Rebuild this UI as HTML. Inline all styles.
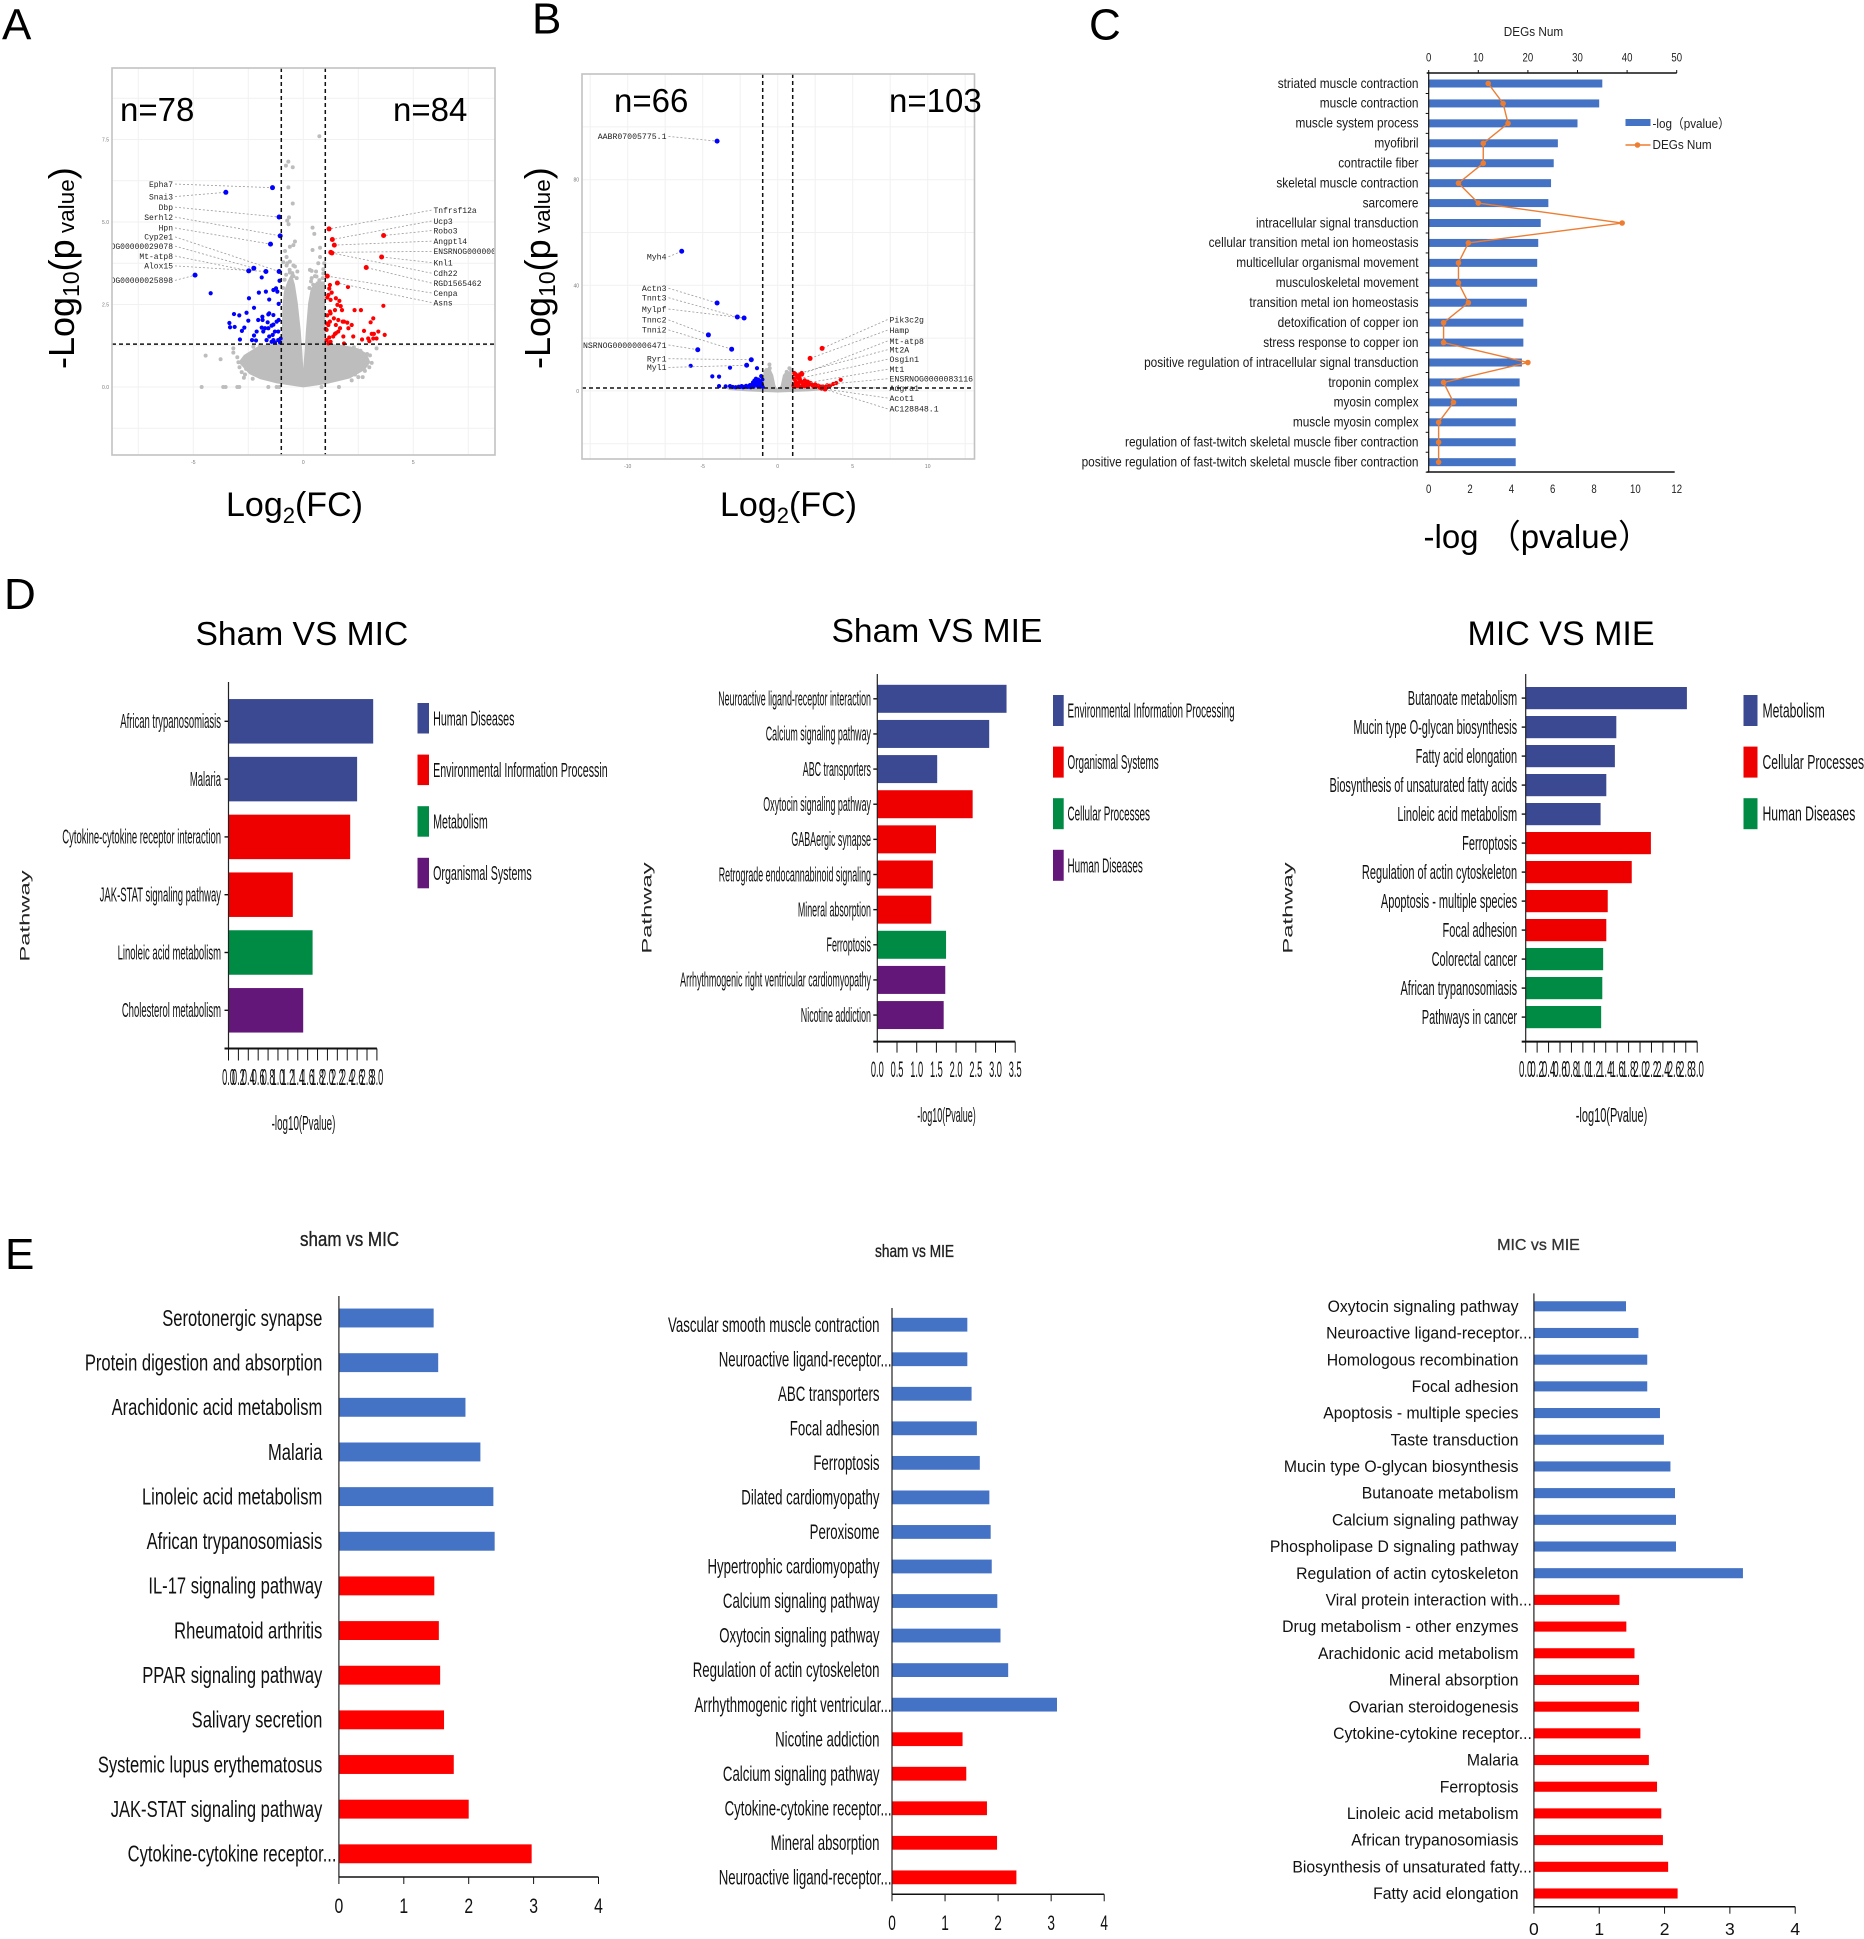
<!DOCTYPE html>
<html lang="en">
<head>
<meta charset="utf-8">
<title>Differential expression figure</title>
<style>
html,body{margin:0;padding:0;background:#fff;}
svg{display:block;font-family:"Liberation Sans","Noto Sans CJK SC",sans-serif;}
</style>
</head>
<body>
<svg id="fig" xmlns="http://www.w3.org/2000/svg" width="1864" height="1939" viewBox="0 0 1864 1939">
<defs>
<clipPath id="clip-a"><rect x="112" y="68" width="383" height="387"/></clipPath>
<clipPath id="clip-b"><rect x="582" y="74" width="393" height="385"/></clipPath>
<clipPath id="clip-d2-legend"><rect x="1060" y="680" width="176" height="220"/></clipPath>
</defs>
<rect x="0" y="0" width="1864" height="1939" fill="#fff"/>

<text x="2" y="39.5" font-size="44">A</text>
<text x="532" y="33.5" font-size="44">B</text>
<text x="1089" y="39.5" font-size="44">C</text>
<text x="4" y="609" font-size="44">D</text>
<text x="5" y="1269" font-size="44">E</text>

<g id="panel-a"></g>
<g id="panel-b"></g>

<text x="120" y="121" font-size="33">n=78</text>
<text x="393" y="121" font-size="33">n=84</text>
<text x="614" y="112" font-size="33">n=66</text>
<text x="889" y="112" font-size="33">n=103</text>

<text transform="translate(74,369) rotate(-90)" font-size="36">-Log<tspan font-size="23" dy="5">10</tspan><tspan dy="-5">(p</tspan><tspan font-size="22.5"> value</tspan>)</text>
<text transform="translate(550,369) rotate(-90)" font-size="36">-Log<tspan font-size="23" dy="5">10</tspan><tspan dy="-5">(p</tspan><tspan font-size="22.5"> value</tspan>)</text>
<text x="226" y="516" font-size="34">Log<tspan font-size="22" dy="7">2</tspan><tspan dy="-7">(FC)</tspan></text>
<text x="720" y="516" font-size="34">Log<tspan font-size="22" dy="7">2</tspan><tspan dy="-7">(FC)</tspan></text>

<g transform="translate(-1.5,-1)">
<g id="panel-c"></g>
<text transform="translate(1535,37) scale(0.94,1)" font-size="12.5" text-anchor="middle" fill="#222">DEGs Num</text>
<text transform="translate(1425,549) scale(1,1)" font-size="33">-log （pvalue）</text>
<rect x="1627" y="120" width="25" height="7" fill="#4472c4"/>
<text transform="translate(1654,129) scale(0.9,1)" font-size="13" fill="#222">-log（pvalue）</text>
<line x1="1627" y1="146" x2="1652" y2="146" stroke="#ed7d31" stroke-width="1.6"/>
<circle cx="1639" cy="146" r="2.8" fill="#ed7d31"/>
<text transform="translate(1654,150) scale(0.9,1)" font-size="13" fill="#222">DEGs Num</text>

<text x="197" y="646" font-size="33.6">Sham VS MIC</text>
<text x="833" y="643" font-size="33.6">Sham VS MIE</text>
<text x="1469" y="646" font-size="34">MIC VS MIE</text>
<g id="panel-d1"></g>
<g id="panel-d2"></g>
<g id="panel-d3"></g>
<text transform="translate(31,917) rotate(-90) scale(1.7,1)" font-size="14" text-anchor="middle" fill="#222">Pathway</text>
<text transform="translate(653,909) rotate(-90) scale(1.7,1)" font-size="14" text-anchor="middle" fill="#222">Pathway</text>
<text transform="translate(1294,909) rotate(-90) scale(1.7,1)" font-size="14" text-anchor="middle" fill="#222">Pathway</text>
<text transform="translate(305,1131) scale(0.49,1)" font-size="20" text-anchor="middle" fill="#111">-log10(Pvalue)</text>
<text transform="translate(948,1123) scale(0.45,1)" font-size="20" text-anchor="middle" fill="#111">-log10(Pvalue)</text>
<text transform="translate(1613,1123) scale(0.55,1)" font-size="20" text-anchor="middle" fill="#111">-log10(Pvalue)</text>

<text transform="translate(351,1247) scale(0.85,1)" font-size="20" text-anchor="middle" fill="#222" stroke="#222" stroke-width="0.35">sham vs MIC</text>
<text transform="translate(916,1258) scale(0.76,1)" font-size="18" text-anchor="middle" fill="#222" stroke="#222" stroke-width="0.35">sham vs MIE</text>
<text x="1540" y="1251" font-size="16" text-anchor="middle" fill="#333" stroke="#333" stroke-width="0.3">MIC vs MIE</text>
<g id="panel-e1"></g>
<g id="panel-e2"></g>
<g id="panel-e3"></g>
</g>
</svg>

<script>
/* ---------- Panel A data ---------- */
const aGridX=[-7.5,-5,-2.5,0,2.5,5,7.5];
const aGridY=[-1.25,0,1.25,2.5,3.75,5,6.25,7.5,8.75];
const aTickX=[-5,0,5];
const aTickY=[0,2.5,5,7.5];
const aTickYLabels=['0.0','2.5','5.0','7.5'];
const aOutlineX=[0,-1.21,-1.97,-2.45,-2.95,-2.7,-1.97,-1,-.97,-.95,-.88,-.72,-.53,-.38,-.25,-.12,-.05,0,.06,.12,.22,.34,.61,.98,1.02,1.82,2.5,2.88,3.05,2.8,2.12,1.06];
const aOutlineY=[-.01,.11,.24,.39,.75,.97,1.27,1.32,1.83,2.43,2.9,3.2,3.45,3.1,2.54,1.73,1.12,.57,1.12,1.73,2.54,2.98,3.2,3.2,1.32,1.27,1.17,1.02,.75,.52,.26,.09];
const aGrayX=[.73,-.68,-.79,-.48,-.68,-.48,-.65,-.73,-.67,.42,.5,-.38,-.45,-.61,-.83,.42,.76,-.76,-.45,-.91,-.61,.38,.53,.76,.91,-.45,-.76,-4.62,-3.64,-3.53,-3,-2.91,-1.59,-1.21,-1.09,1.62,.83,-4.44,-3.76,-3.18,-3.18,3.33,3.03,3.11,2.8,2.35,2.12,-2.95,-2.65,-1.97,-2.27,-.61,-.73,-.38,-.27,.3,.58,.68,.38,.73,.91,.95,-3,-2.9,-2.8,-2.6,-2.4,-2.2,-1.8,-1.5,2.9,2.6,2.3,1.6,2.7,2.5,3,-.92,-.85,-.78,-.62,-.5,-.3,.28,.35,.45,.6,.88,.8,-2.7,-2.3,2.2,1.4];
const aGrayY=[7.6,6.83,6.71,6.66,6.05,5.56,5.14,5.04,4.93,4.83,4.64,4.41,4.3,4.25,4.12,4.15,4.22,3.94,3.68,3.78,3.47,3.52,3.36,3.94,3.57,3.36,3.68,0,0,0,0,0,0,0,0,0,0,.95,.84,1.17,1.04,1.17,.96,.73,.49,.38,1.17,.75,.38,1.27,1.22,3.8,3.75,3.65,3.5,3.55,3.5,3.75,3.3,3.24,3.44,3.75,.9,.6,.45,.55,.9,1.05,1.12,1.2,1,1.1,1.2,1.25,.3,.3,.6,3,3.25,3.4,3.55,3.45,3.3,3,3.2,3.1,3.35,3.3,3.1,.28,.25,.2,.22];
const aBlueX=[-4.21,-1.89,-1.08,-2.47,-2.24,-2.58,-2.02,-1.7,-1.36,-1.24,-1.18,-1.55,-1.12,-3.15,-2.91,-3.36,-3.33,-3.12,-2.68,-2.79,-2.88,-2.5,-2.24,-2.15,-2.33,-2.12,-1.86,-1.55,-1.59,-1.36,-1.12,-2.05,-1.85,-1.89,-1.74,-1.59,-1.44,-1.36,-1.62,-1.21,-1.29,-1.39,-1.14,-1.55,-1.67,-1.36,-1.14,-1.03,-1.44,-1.29,-1.06,-1.82];
const aBlueY=[2.84,3.32,3.22,2.69,2.4,2.25,2.86,2.89,2.94,2.99,2.89,2.65,2.52,2.21,2.17,1.94,1.81,1.82,1.8,1.7,1.44,2.01,1.56,1.41,1.42,1.68,2.13,2.23,2.2,2.18,2.03,2.03,2.03,1.8,1.78,1.78,1.86,1.89,1.96,1.98,1.68,1.58,1.68,1.53,1.42,1.42,1.42,1.47,1.37,1.35,1.35,1.68];
const aRedX=[2.03,1.21,1.18,1.14,1.29,1.09,1.48,1.24,1.64,1.55,1.7,1.76,1.44,1.21,1.09,1.24,1.39,1.59,1.79,1.85,1.21,1.06,1.14,1.48,1.67,2.05,2.2,2,2.33,2.62,3.64,3.18,3.06,2.76,3.11,3.41,3.7,3.21,3.33,3.18,2.95,3,2.67,2.27,1.82,1.59,1.44,1.36,1.18,1.06,1.06,1.24,1.48,1.85,1.14,1.02];
const aRedY=[3.03,3.09,2.98,2.79,2.86,2.71,2.69,2.64,2.61,2.49,2.45,2.33,2.33,2.29,2.17,2.23,2.08,2.03,1.98,1.98,1.98,1.93,1.88,1.88,1.78,1.78,1.88,1.95,2.33,2.33,2.46,2.08,1.96,1.7,1.61,1.68,1.58,1.61,1.47,1.47,1.47,1.39,1.44,1.53,1.53,1.68,1.61,1.53,1.5,1.73,1.42,1.37,1.63,1.32,1.32,1.76];
const aLeftGenes=['Epha7','Snai3','Dbp','Serhl2','Hpn','Cyp2e1','ENSRNOG00000029078','Mt-atp8','Alox15','ENSRNOG00000025898'];
const aLeftX=[-1.4,-3.52,-1.1,-1.05,-1.49,-1.1,-2.25,-2.48,-1.7,-4.92];
const aLeftY=[6.04,5.9,5.15,4.58,4.33,3.5,3.6,3.52,3.5,3.39];
const aLeftLabelY=[6.15,5.77,5.45,5.15,4.82,4.55,4.27,3.97,3.67,3.23];
const aRightGenes=['Tnfrsf12a','Ucp3','Robo3','Angptl4','ENSRNOG00000065432','Knl1','Cdh22','RGD1565462','Cenpa','Asns'];
const aRightX=[1.17,1.32,3.65,1.41,1.25,3.56,1.3,2.86,1.09,1.55];
const aRightY=[4.79,4.47,4.59,4.3,4.08,3.94,4.06,3.62,3.36,3.15];
const aRightLabelY=[5.36,5.03,4.74,4.42,4.11,3.77,3.45,3.15,2.85,2.56];

/* ---------- Panel B data ---------- */
const bGridX=[-12.5,-10,-7.5,-5,-2.5,0,2.5,5,7.5,10,12.5];
const bGridY=[-20,0,20,40,60,80,100];
const bTickX=[-10,-5,0,5,10];
const bTickY=[0,40,80];
const bTickYLabels=['0','40','80'];
const bOutlineX=[-3.5,-1,-.95,-.8,-.5,-.3,-.15,-.05,.05,.2,.35,.5,.7,.95,1,3.5,3.2,2,0,-2,-3.2];
const bOutlineY=[1.1,1.3,7.5,8.7,8.5,6,2,1,1,2,6,7,7.5,7,1.3,1.2,.3,-.2,-.6,-.2,.3];
const bGrayX=[-.53,-.53,-.55,.78,.6,.9];
const bGrayY=[8.6,6.7,10,8.6,7.2,7.8];
const bBlueX=[-3.18,-5.8,-1.38,-4.36,-3.91,-3.91,-3.47,-3.18,-3,-2.8,-2.6,-2.5,-2.4,-2.3,-2.2,-2.1,-2,-1.9,-1.85,-1.8,-1.75,-1.7,-1.65,-1.6,-1.55,-1.5,-1.45,-1.4,-1.35,-1.3,-1.25,-1.2,-1.15,-1.1,-1.05,-1.02,-1];
const bBlueY=[8.8,9.5,8.6,5.5,5.4,1.8,1.7,1.8,1.5,1.4,1.6,1.5,1.8,1.4,1.6,1.9,1.5,1.7,2.2,1.4,1.8,2.4,3.2,1.6,3.9,2.6,4.6,3.6,2,4.3,3,1.7,3.6,5.6,2.4,4.3,1.5];
const bRedX=[1.1,1.25,1.45,1.6,1.1,1.2,1.3,1.4,1.5,1.6,1.7,1.8,1.9,2,2.1,2.2,2.3,2.5,2.6,2.7,2.85,3,3.2,3.5,3.7,3.9,4.2,1.05,1.15,1.25,1.4,1.6,1.8,2,2.4,3.3];
const bRedY=[6.8,6,6.2,6.8,4.5,3.5,5,3,4,3.4,2.5,4,3,3.5,2.4,3,2.2,2.5,1.8,2,1.6,1.7,1.5,2,2.6,3,4.2,2,2.5,1.8,1.8,1.7,1.8,1.6,1.5,2.1];
const bLeftGenes=['AABR07005775.1','Myh4','Actn3','Tnnt3','Mylpf','Tnnc2','Tnni2','ENSRNOG00000006471','Ryr1','Myl1'];
const bLeftX=[-4.04,-6.4,-4.04,-2.69,-2.24,-4.62,-3.07,-5.33,-1.76,-2.07];
const bLeftY=[94.6,52.9,33.3,28,27.6,21.2,15.8,15.6,11.8,9.7];
const bLeftLabelY=[96.4,50.8,38.9,35.3,31,26.9,23.1,17.4,12.2,8.9];
const bRightGenes=['Pik3c2g','Hamp','Mt-atp8','Mt2A','Osgin1','Mt1','ENSRNOG0000083116','Adgra1','Acot1','AC128848.1'];
const bRightX=[2.96,2.16,1.6,1.16,1.44,1.93,2.38,2.82,3.16,2.93];
const bRightY=[16.1,12.3,6.3,6.3,4.7,3,2,1.4,.7,1];
const bRightLabelY=[27,23,18.9,15.6,12,8.2,4.6,1.1,-2.7,-6.8];

/* ---------- Panel C data ---------- */
const cTerms=['striated muscle contraction','muscle contraction','muscle system process','myofibril','contractile fiber','skeletal muscle contraction','sarcomere','intracellular signal transduction','cellular transition metal ion homeostasis','multicellular organismal movement','musculoskeletal movement','transition metal ion homeostasis','detoxification of copper ion','stress response to copper ion','positive regulation of intracellular signal transduction','troponin complex','myosin complex','muscle myosin complex','regulation of fast-twitch skeletal muscle fiber contraction','positive regulation of fast-twitch skeletal muscle fiber contraction'];
const cPvalue=[8.4,8.25,7.2,6.25,6.05,5.92,5.79,5.42,5.3,5.25,5.25,4.75,4.58,4.58,4.51,4.4,4.27,4.21,4.21,4.21];
const cDegs=[12,15,16,11,11,6,10,39,8,6,6,8,3,3,20,3,5,2,2,2];
const cTicksBottom=[0,2,4,6,8,10,12];
const cTicksTop=[0,10,20,30,40,50];

/* ---------- Panel D data ---------- */
const aaasColors=['#3B4992','#EE0000','#008B45','#631879'];
const d1Cats=['African trypanosomiasis','Malaria','Cytokine-cytokine receptor interaction','JAK-STAT signaling pathway','Linoleic acid metabolism','Cholesterol metabolism'];
const d1Vals=[2.925,2.6,2.46,1.3,1.7,1.51];
const d1Groups=[0,0,1,1,2,3];
const d1Legend=['Human Diseases','Environmental Information Processin','Metabolism','Organismal Systems'];
const d2Cats=['Neuroactive ligand-receptor interaction','Calcium signaling pathway','ABC transporters','Oxytocin signaling pathway','GABAergic synapse','Retrograde endocannabinoid signaling','Mineral absorption','Ferroptosis','Arrhythmogenic right ventricular cardiomyopathy','Nicotine addiction'];
const d2Vals=[3.28,2.84,1.52,2.42,1.49,1.41,1.37,1.745,1.725,1.685];
const d2Groups=[0,0,0,1,1,1,1,2,3,3];
const d2Legend=['Environmental Information Processing','Organismal Systems','Cellular Processes','Human Diseases'];
const d3Cats=['Butanoate metabolism','Mucin type O-glycan biosynthesis','Fatty acid elongation','Biosynthesis of unsaturated fatty acids','Linoleic acid metabolism','Ferroptosis','Regulation of actin cytoskeleton','Apoptosis - multiple species','Focal adhesion','Colorectal cancer','African trypanosomiasis','Pathways in cancer'];
const d3Vals=[2.82,1.585,1.56,1.41,1.31,2.19,1.855,1.435,1.41,1.355,1.34,1.32];
const d3Groups=[0,0,0,0,0,1,1,1,1,2,2,2];
const d3Legend=['Metabolism','Cellular Processes','Human Diseases'];
const dFineTicks=[0,.2,.4,.6,.8,1,1.2,1.4,1.6,1.8,2,2.2,2.4,2.6,2.8,3];
const dFineTickLabels=['0.0','0.2','0.4','0.6','0.8','1.0','1.2','1.4','1.6','1.8','2.0','2.2','2.4','2.6','2.8','3.0'];
const d2Ticks=[0,.5,1,1.5,2,2.5,3,3.5];
const d2TickLabels=['0.0','0.5','1.0','1.5','2.0','2.5','3.0','3.5'];

/* ---------- Panel E data ---------- */
const eColors=['#4472c4','#ff0000'];
const eTicks=[0,1,2,3,4];
const eTickLabels=['0','1','2','3','4'];
const e1Cats=['Serotonergic synapse','Protein digestion and absorption','Arachidonic acid metabolism','Malaria','Linoleic acid metabolism','African trypanosomiasis','IL-17 signaling pathway','Rheumatoid arthritis','PPAR signaling pathway','Salivary secretion','Systemic lupus erythematosus','JAK-STAT signaling pathway','Cytokine-cytokine receptor...'];
const e1Vals=[1.46,1.53,1.95,2.18,2.38,2.4,1.47,1.54,1.56,1.62,1.77,2,2.97];
const e1Groups=[0,0,0,0,0,0,1,1,1,1,1,1,1];
const e2Cats=['Vascular smooth muscle contraction','Neuroactive ligand-receptor...','ABC transporters','Focal adhesion','Ferroptosis','Dilated cardiomyopathy','Peroxisome','Hypertrophic cardiomyopathy','Calcium signaling pathway','Oxytocin signaling pathway','Regulation of actin cytoskeleton','Arrhythmogenic right ventricular...','Nicotine addiction','Calcium signaling pathway','Cytokine-cytokine receptor...','Mineral absorption','Neuroactive ligand-receptor...'];
const e2Vals=[1.42,1.42,1.5,1.6,1.655,1.835,1.86,1.88,1.985,2.045,2.19,3.11,1.33,1.4,1.79,1.98,2.345];
const e2Groups=[0,0,0,0,0,0,0,0,0,0,0,0,1,1,1,1,1];
const e3Cats=['Oxytocin signaling pathway','Neuroactive ligand-receptor...','Homologous recombination','Focal adhesion','Apoptosis - multiple species','Taste transduction','Mucin type O-glycan biosynthesis','Butanoate metabolism','Calcium signaling pathway','Phospholipase D signaling pathway','Regulation of actin cytoskeleton','Viral protein interaction with...','Drug metabolism - other enzymes','Arachidonic acid metabolism','Mineral absorption','Ovarian steroidogenesis','Cytokine-cytokine receptor...','Malaria','Ferroptosis','Linoleic acid metabolism','African trypanosomiasis','Biosynthesis of unsaturated fatty...','Fatty acid elongation'];
const e3Vals=[1.41,1.6,1.735,1.735,1.93,1.99,2.09,2.16,2.175,2.175,3.2,1.31,1.415,1.54,1.61,1.61,1.63,1.76,1.885,1.95,1.975,2.055,2.2];
const e3Groups=[0,0,0,0,0,0,0,0,0,0,0,1,1,1,1,1,1,1,1,1,1,1,1];

/* ---------- Helpers ---------- */
const NS='http://www.w3.org/2000/svg';
function mk(parent,tag,attrs){
  const el=document.createElementNS(NS,tag);
  for(const k in attrs){el.setAttribute(k,attrs[k]);}
  parent.appendChild(el);
  return el;
}
function label(parent,str,x,y,size,anchor,sx,fill,family){
  const el=mk(parent,'text',{transform:'translate('+x+','+y+') scale('+sx+',1)','font-size':size,'text-anchor':anchor,fill:fill});
  if(family){el.setAttribute('font-family',family);}
  el.textContent=str;
  return el;
}

/* ---------- Volcano ---------- */
function drawVolcano(g,c){
  const X=v=>c.cx+v*c.kx;
  const Y=v=>c.cy-v*c.ky;
  const b=c.box;
  c.gridX.forEach(v=>{
    const el=mk(g,'line',{x1:X(v),x2:X(v),y1:b[1],y2:b[3],stroke:'#f1f1f1','stroke-width':1});
    
    
  });
  c.gridY.forEach(v=>{
    const el=mk(g,'line',{x1:b[0],x2:b[2],y1:Y(v),y2:Y(v),stroke:'#f1f1f1','stroke-width':1});
    
    
  });
  const cloud=mk(g,'polygon',{points:c.outX.map((v,i)=>X(v)+','+Y(c.outY[i])).join(' '),fill:'#bdbdbd'});
  
  
  c.grayX.forEach((v,i)=>{
    const el=mk(g,'circle',{cx:X(v),cy:Y(c.grayY[i]),r:2,fill:'#bdbdbd'});
    
    
  });
  c.blueX.forEach((v,i)=>{
    const el=mk(g,'circle',{cx:X(v),cy:Y(c.blueY[i]),r:2.1,fill:'#0000ff'});
    
    
  });
  c.redX.forEach((v,i)=>{
    const el=mk(g,'circle',{cx:X(v),cy:Y(c.redY[i]),r:2.1,fill:'#ff0000'});
    
    
  });
  const clip=mk(g,'g',{'clip-path':'url(#'+c.clip+')'});
  c.leftGenes.forEach((name,i)=>{
    const ly=Y(c.leftLabelY[i]);
    const line=mk(clip,'line',{x1:c.leftLabelX+2,y1:ly,x2:X(c.leftX[i]),y2:Y(c.leftY[i]),stroke:'#9a9a9a','stroke-width':.8,'stroke-dasharray':'2 2'});
    
    
    const dot=mk(g,'circle',{cx:X(c.leftX[i]),cy:Y(c.leftY[i]),r:2.5,fill:'#0000ff'});
    
    
    const t=label(clip,name,c.leftLabelX,ly+2.8,c.geneSize,'end',1,'#222','Liberation Mono');
    
    
  });
  c.rightGenes.forEach((name,i)=>{
    const ly=Y(c.rightLabelY[i]);
    const line=mk(clip,'line',{x1:c.rightLabelX-2,y1:ly,x2:X(c.rightX[i]),y2:Y(c.rightY[i]),stroke:'#9a9a9a','stroke-width':.8,'stroke-dasharray':'2 2'});
    
    
    const dot=mk(g,'circle',{cx:X(c.rightX[i]),cy:Y(c.rightY[i]),r:2.5,fill:'#ff0000'});
    
    
    const t=label(clip,name,c.rightLabelX,ly+2.8,c.geneSize,'start',1,'#222','Liberation Mono');
    
    
  });
  [-1,1].forEach(v=>{
    const el=mk(g,'line',{x1:X(v),x2:X(v),y1:b[1],y2:b[3],stroke:'#111','stroke-width':1.5,'stroke-dasharray':'4 3'});
    
    
  });
  const h=mk(g,'line',{x1:b[0],x2:b[2],y1:Y(c.pLine),y2:Y(c.pLine),stroke:'#111','stroke-width':1.5,'stroke-dasharray':'4 3'});
  
  
  const frame=mk(g,'rect',{x:b[0],y:b[1],width:b[2]-b[0],height:b[3]-b[1],fill:'none',stroke:'#c2c2c2','stroke-width':1.6});
  
  
  c.tickX.forEach(v=>{
    const t=label(g,String(v),X(v),b[3]+9,5,'middle',1,'#777');
    
    
  });
  c.tickY.forEach((v,i)=>{
    const t=label(g,c.tickYLabels[i],b[0]-3,Y(v)+2,5,'end',1,'#777');
    
    
  });
}
drawVolcano(document.getElementById('panel-a'),{
  cx:303.3,kx:22,cy:387,ky:33,box:[112,68,495,455],pLine:1.3,clip:'clip-a',
  gridX:aGridX,gridY:aGridY,tickX:aTickX,tickY:aTickY,tickYLabels:aTickYLabels,
  outX:aOutlineX,outY:aOutlineY,grayX:aGrayX,grayY:aGrayY,blueX:aBlueX,blueY:aBlueY,redX:aRedX,redY:aRedY,
  leftGenes:aLeftGenes,leftX:aLeftX,leftY:aLeftY,leftLabelY:aLeftLabelY,leftLabelX:173,
  rightGenes:aRightGenes,rightX:aRightX,rightY:aRightY,rightLabelY:aRightLabelY,rightLabelX:433.5,geneSize:8
});
drawVolcano(document.getElementById('panel-b'),{
  cx:777.7,kx:15,cy:390.9,ky:2.64,box:[582,74,974.5,459],pLine:1.1,clip:'clip-b',
  gridX:bGridX,gridY:bGridY,tickX:bTickX,tickY:bTickY,tickYLabels:bTickYLabels,
  outX:bOutlineX,outY:bOutlineY,grayX:bGrayX,grayY:bGrayY,blueX:bBlueX,blueY:bBlueY,redX:bRedX,redY:bRedY,
  leftGenes:bLeftGenes,leftX:bLeftX,leftY:bLeftY,leftLabelY:bLeftLabelY,leftLabelX:666.5,
  rightGenes:bRightGenes,rightX:bRightX,rightY:bRightY,rightLabelY:bRightLabelY,rightLabelX:889.5,geneSize:8.2
});

/* ---------- Panel C ---------- */
(function(){
  const g=document.getElementById('panel-c');
  const left=1430.2,width=248;
  const Xb=v=>left+v/12*width;
  const Xd=v=>left+v/50*width;
  const Y=i=>84.5+i*19.93;
  cTerms.forEach((name,i)=>{
    const bar=mk(g,'rect',{x:left,y:Y(i)-4,width:Xb(cPvalue[i])-left,height:8,fill:'#4472c4'});
    
    
    const t=label(g,name,1420,Y(i)+4.3,13.5,'end',.878,'#1a1a1a');
    
    
    const tick=mk(g,'line',{x1:left-3,x2:left,y1:Y(i)+10,y2:Y(i)+10,stroke:'#111','stroke-width':1});
    
    
  });
  const yAxis=mk(g,'line',{x1:left,x2:left,y1:73,y2:473,stroke:'#111','stroke-width':1.2});
  
  
  const topAxis=mk(g,'line',{x1:left-2,x2:left+width,y1:74,y2:74,stroke:'#111','stroke-width':1.4});
  
  
  const botAxis=mk(g,'line',{x1:left-2,x2:left+width-2,y1:473,y2:473,stroke:'#111','stroke-width':1.4});
  
  
  cTicksTop.forEach(v=>{
    const tk=mk(g,'line',{x1:Xd(v),x2:Xd(v),y1:71,y2:74,stroke:'#111','stroke-width':1});
    
    
    const t=label(g,String(v),Xd(v),62.6,12,'middle',.8,'#222');
    
    
  });
  cTicksBottom.forEach(v=>{
    const t=label(g,String(v),Xb(v),494,12,'middle',.8,'#222');
    
    
  });
  const path=mk(g,'polyline',{points:cDegs.map((v,i)=>Xd(v)+','+Y(i)).join(' '),fill:'none',stroke:'#ed7d31','stroke-width':1.4});
  
  
  cDegs.forEach((v,i)=>{
    const dot=mk(g,'circle',{cx:Xd(v),cy:Y(i),r:2.8,fill:'#ed7d31'});
    
    
  });
})();

/* ---------- Horizontal bar charts (D and E) ---------- */
function drawBars(g,c){
  const X=v=>c.axisX+v/c.domainMax*c.axisW;
  const Y=i=>c.firstY+i*c.stepY;
  c.cats.forEach((name,i)=>{
    const bar=mk(g,'rect',{x:c.axisX,y:Y(i)-c.barH/2,width:X(c.vals[i])-c.axisX,height:c.barH,fill:c.colors[c.groups[i]]});
    
    
    const lx=name.endsWith('...')?c.ellipsisX:c.labelX;
    const t=label(g,name,lx,Y(i)+c.labelSize*.34,c.labelSize,'end',c.labelSx,'#111');
    
    
    if(c.catTicks){
      const tk=mk(g,'line',{x1:c.axisX-4,x2:c.axisX,y1:Y(i),y2:Y(i),stroke:'#111','stroke-width':1.4});
      
      
    }
  });
  const ya=mk(g,'line',{x1:c.axisX,x2:c.axisX,y1:c.axisTop,y2:c.axisY,stroke:'#222','stroke-width':1.2});
  
  
  const xa=mk(g,'line',{x1:c.axisX-c.axisLead,x2:X(c.domainMax),y1:c.axisY,y2:c.axisY,stroke:'#111','stroke-width':c.axisStroke});
  
  
  c.ticks.forEach((v,i)=>{
    const tk=mk(g,'line',{x1:X(v),x2:X(v),y1:c.axisY,y2:c.axisY+c.tickLen,stroke:'#111','stroke-width':1});
    
    
    const t=label(g,c.tickLabels[i],X(v),c.tickBase,c.tickSize,'middle',c.tickSx,'#111');
    
    
  });
  if(c.legend){
    const holder=c.legendClip?mk(g,'g',{'clip-path':'url(#'+c.legendClip+')'}):g;
    c.legend.forEach((name,i)=>{
      const top=c.legendTop+i*c.legendStep;
      const sw=mk(g,'rect',{x:c.legendX,y:top,width:c.legendW,height:c.legendH,fill:c.colors[i]});
      
      
      const t=label(holder,name,c.legendTextX,top+c.legendH/2+7,20,'start',c.legendSx,'#111');
      
      
    });
  }
}
drawBars(document.getElementById('panel-d1'),{
  cats:d1Cats,vals:d1Vals,groups:d1Groups,colors:aaasColors,domainMax:3,
  axisX:230,axisW:148.4,axisTop:683,axisY:1049.5,axisLead:4,axisStroke:2,
  firstY:722.3,stepY:57.8,barH:44.5,labelX:222.5,ellipsisX:222.5,labelSize:20,labelSx:.475,catTicks:true,
  ticks:dFineTicks,tickLabels:dFineTickLabels,tickBase:1086,tickSize:23,tickSx:.4,tickLen:12,
  legend:d1Legend,legendTop:704,legendStep:51.6,legendX:419,legendW:11.5,legendH:30.5,legendTextX:434.6,legendSx:.535
});
drawBars(document.getElementById('panel-d2'),{
  cats:d2Cats,vals:d2Vals,groups:d2Groups,colors:aaasColors,domainMax:3.5,
  axisX:878.8,axisW:137.9,axisTop:675,axisY:1042.6,axisLead:4,axisStroke:2,
  firstY:699.8,stepY:35.14,barH:28,labelX:872.5,ellipsisX:872.5,labelSize:20,labelSx:.445,catTicks:true,
  ticks:d2Ticks,tickLabels:d2TickLabels,tickBase:1078,tickSize:22,tickSx:.42,tickLen:11,
  legend:d2Legend,legendClip:'clip-d2-legend',legendTop:696,legendStep:51.6,legendX:1054.5,legendW:10.7,legendH:31,legendTextX:1069,legendSx:.495
});
drawBars(document.getElementById('panel-d3'),{
  cats:d3Cats,vals:d3Vals,groups:d3Groups,colors:aaasColors,domainMax:3,
  axisX:1527.2,axisW:171.5,axisTop:675,axisY:1042.6,axisLead:4,axisStroke:2,
  firstY:699.1,stepY:29,barH:22.2,labelX:1518.6,ellipsisX:1518.6,labelSize:20,labelSx:.55,catTicks:true,
  ticks:dFineTicks,tickLabels:dFineTickLabels,tickBase:1078,tickSize:23,tickSx:.42,tickLen:11,
  legend:d3Legend,legendTop:696,legendStep:51.6,legendX:1745,legendW:14,legendH:31,legendTextX:1764,legendSx:.61
});
drawBars(document.getElementById('panel-e1'),{
  cats:e1Cats,vals:e1Vals,groups:e1Groups,colors:eColors,domainMax:4,
  axisX:340.4,axisW:259.6,axisTop:1297,axisY:1878,axisLead:0,axisStroke:1.5,
  firstY:1319,stepY:44.65,barH:18.9,labelX:323.8,ellipsisX:338,labelSize:23,labelSx:.72,catTicks:false,
  ticks:eTicks,tickLabels:eTickLabels,tickBase:1914,tickSize:21,tickSx:.75,tickLen:7
});
drawBars(document.getElementById('panel-e2'),{
  cats:e2Cats,vals:e2Vals,groups:e2Groups,colors:eColors,domainMax:4,
  axisX:893.5,axisW:212.2,axisTop:1309,axisY:1895.3,axisLead:0,axisStroke:1.5,
  firstY:1325.7,stepY:34.54,barH:13.8,labelX:881,ellipsisX:893,labelSize:21,labelSx:.63,catTicks:false,
  ticks:eTicks,tickLabels:eTickLabels,tickBase:1931,tickSize:21,tickSx:.65,tickLen:7
});
drawBars(document.getElementById('panel-e3'),{
  cats:e3Cats,vals:e3Vals,groups:e3Groups,colors:eColors,domainMax:4,
  axisX:1535.4,axisW:261.3,axisTop:1294.4,axisY:1907.7,axisLead:0,axisStroke:1.5,
  firstY:1307.3,stepY:26.69,barH:10.1,labelX:1520,ellipsisX:1533.4,labelSize:16.5,labelSx:.955,catTicks:false,
  ticks:eTicks,tickLabels:eTickLabels,tickBase:1936,tickSize:17.5,tickSx:1,tickLen:7
});
</script>
</body>
</html>
